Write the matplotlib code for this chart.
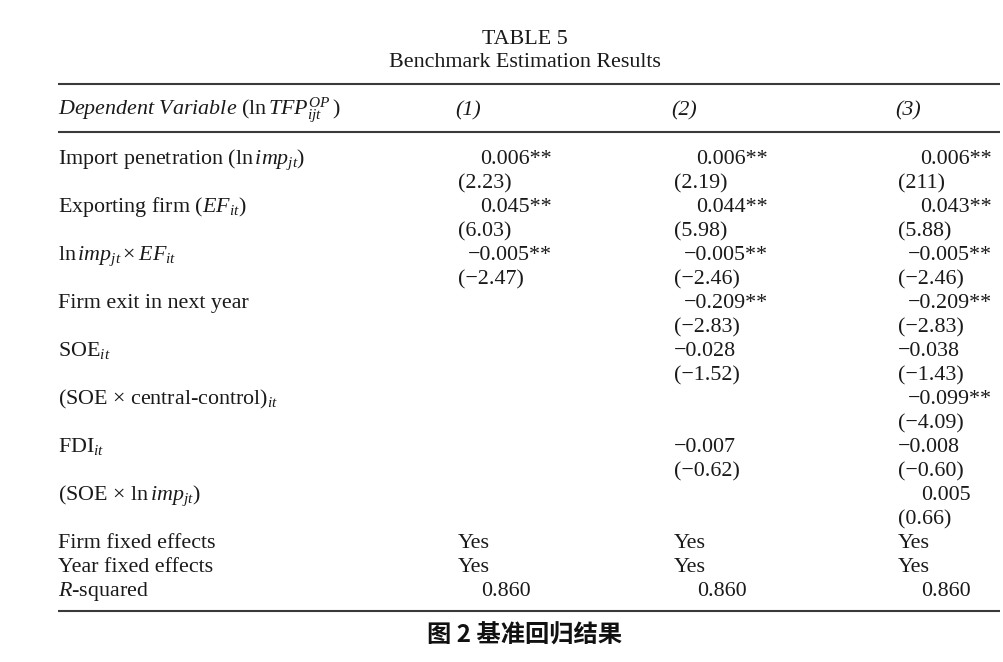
import matplotlib
matplotlib.use("Agg")
import matplotlib.pyplot as plt

plt.rcParams['font.family'] = ['Liberation Serif', 'DejaVu Serif']
plt.rcParams['mathtext.fontset'] = 'custom'
plt.rcParams['mathtext.rm'] = 'Liberation Serif'
plt.rcParams['mathtext.it'] = 'Liberation Serif:italic'
plt.rcParams['mathtext.bf'] = 'Liberation Serif:bold'

# ---------------- data ----------------
title_lines = ["TABLE 5", "Benchmark Estimation Results"]
header_label = r"$\mathit{Dependent\ Variable}\ (\mathrm{ln}\,TFP^{OP}_{ijt}\,)$"
column_labels = ["(1)", "(2)", "(3)"]

variables = [
    r"Import penetration ($\mathrm{ln}\,imp_{jt}$)",
    r"Exporting firm ($EF_{it}$)",
    r"$\mathrm{ln}\,imp_{jt}\times EF_{it}$",
    "Firm exit in next year",
    r"SOE$_{it}$",
    r"(SOE $\times$ central-control)$_{it}$",
    r"FDI$_{it}$",
    r"(SOE $\times$ $\mathrm{ln}\,imp_{jt}$)",
]

coef_1 = ["0.006**", "0.045**", "\u22120.005**", "", "", "", "", ""]
tstat_1 = ["(2.23)", "(6.03)", "(\u22122.47)", "", "", "", "", ""]
coef_2 = ["0.006**", "0.044**", "\u22120.005**", "\u22120.209**", "\u22120.028", "", "\u22120.007", ""]
tstat_2 = ["(2.19)", "(5.98)", "(\u22122.46)", "(\u22122.83)", "(\u22121.52)", "", "(\u22120.62)", ""]
coef_3 = ["0.006**", "0.043**", "\u22120.005**", "\u22120.209**", "\u22120.038", "\u22120.099**", "\u22120.008", "0.005"]
tstat_3 = ["(211)", "(5.88)", "(\u22122.46)", "(\u22122.83)", "(\u22121.43)", "(\u22124.09)", "(\u22120.60)", "(0.66)"]

footer_labels = ["Firm fixed effects", "Year fixed effects", r"$R$-squared"]
firm_fe = ["Yes", "Yes", "Yes"]
year_fe = ["Yes", "Yes", "Yes"]
r_squared = ["0.860", "0.860", "0.860"]

caption = "图 2 基准回归结果"

# ---------------- layout ----------------
W, H = 1004, 662
fig = plt.figure(figsize=(W / 100, H / 100), dpi=100)
ax = fig.add_axes([0, 0, 1, 1])
ax.set_xlim(0, W)
ax.set_ylim(H, 0)
ax.axis('off')

fs = 15.8          # ~22 px
text_color = '#1a1a1a'
line_color = '#3a3a3a'
left_x = 58
right_x = 1000
center_x = 525
col_left = [458, 674, 898]
pos_shift = 23
star_width = 94
row_h = 24
first_base = 164

# title
ax.text(center_x, 44, title_lines[0], ha='center', va='baseline', fontsize=fs, color=text_color)
ax.text(center_x, 67, title_lines[1], ha='center', va='baseline', fontsize=fs, color=text_color)

# rules
for yy in (84, 132, 611):
    ax.plot([left_x, right_x], [yy, yy], color=line_color, lw=1.5, solid_capstyle='butt')

# header
ax.text(left_x, 115, header_label, ha='left', va='baseline', fontsize=fs, color=text_color)
for j, lab in enumerate(column_labels):
    ax.text(col_left[j] - 3, 115, lab, ha='left', va='baseline', fontsize=fs,
            fontstyle='italic', color=text_color)


def put_cell(j, y, s):
    if not s:
        return
    if s.endswith('*'):
        ax.text(col_left[j] + star_width, y, s, ha='right', va='baseline', fontsize=fs, color=text_color)
    elif s[0] in '(\u2212' or s[0].isalpha():
        ax.text(col_left[j], y, s, ha='left', va='baseline', fontsize=fs, color=text_color)
    else:
        ax.text(col_left[j] + pos_shift, y, s, ha='left', va='baseline', fontsize=fs, color=text_color)


coefs = [coef_1, coef_2, coef_3]
tstats = [tstat_1, tstat_2, tstat_3]
line_idx = 0
for i, var in enumerate(variables):
    yc = first_base + row_h * line_idx
    yt = yc + row_h
    ax.text(left_x, yc, var, ha='left', va='baseline', fontsize=fs, color=text_color)
    for j in range(3):
        put_cell(j, yc, coefs[j][i])
        put_cell(j, yt, tstats[j][i])
    line_idx += 2

for lab, vals in zip(footer_labels, [firm_fe, year_fe, r_squared]):
    y = first_base + row_h * line_idx
    ax.text(left_x, y, lab, ha='left', va='baseline', fontsize=fs, color=text_color)
    for j in range(3):
        put_cell(j, y, vals[j])
    line_idx += 1

ax.text(center_x, 636, caption, ha='center', va='center', fontsize=17.5,
        fontweight='bold', family=['Noto Sans CJK SC', 'DejaVu Sans'], color='#111111')

fig.savefig('out.png', dpi=100)
